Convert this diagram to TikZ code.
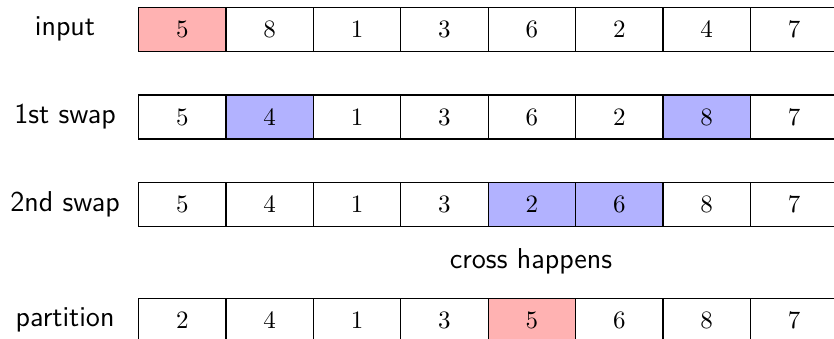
\documentclass[tikz,border=0pt]{standalone}
\begin{document}
\begin{tikzpicture}[x=0.4pt,y=-0.4pt,
  cell/.style={draw, line width=0.45pt, minimum width=34.96pt, minimum height=17.6pt, inner sep=0pt, anchor=north west},
  lbl/.style={font=\fontsize{11.5}{13}\selectfont\sffamily, anchor=center},
  redcell/.style={cell, fill=red!30},
  bluecell/.style={cell, fill=blue!30}]
\useasboundingbox (0,0) rectangle (834,339);
\clip (0,0) rectangle (834,339);
% row 1
\foreach \v [count=\i] in {5,8,1,3,6,2,4,7}{
  \node[cell] (a\i) at ({138+87.4*(\i-1)},7) {$\v$};
}
\node[redcell] (a1) at (138,7) {$5$};
% row 2
\foreach \v [count=\i] in {5,4,1,3,6,2,8,7}{
  \node[cell] (b\i) at ({138+87.4*(\i-1)},94.5) {$\v$};
}
\node[bluecell] (b2) at (225.4,94.5) {$4$};
\node[bluecell] (b7) at (662.4,94.5) {$8$};
% row 3
\foreach \v [count=\i] in {5,4,1,3,2,6,8,7}{
  \node[cell] (c\i) at ({138+87.4*(\i-1)},182) {$\v$};
}
\node[bluecell] (c5) at (487.6,182) {$2$};
\node[bluecell] (c6) at (575,182) {$6$};
% row 4
\foreach \v [count=\i] in {2,4,1,3,5,6,8,7}{
  \node[cell] (d\i) at ({138+87.4*(\i-1)},298) {$\v$};
}
\node[redcell] (d5) at (487.6,298) {$5$};
% labels
\node[lbl] (la) at (65,29) {input};
\node[lbl] (lb) at (65,116.5) {1st swap};
\node[lbl] (lc) at (65,204) {2nd swap};
\node[lbl] (ld) at (65,320) {partition};
\node[lbl] (lx) at (531,261) {cross happens};
\end{tikzpicture}
\end{document}
